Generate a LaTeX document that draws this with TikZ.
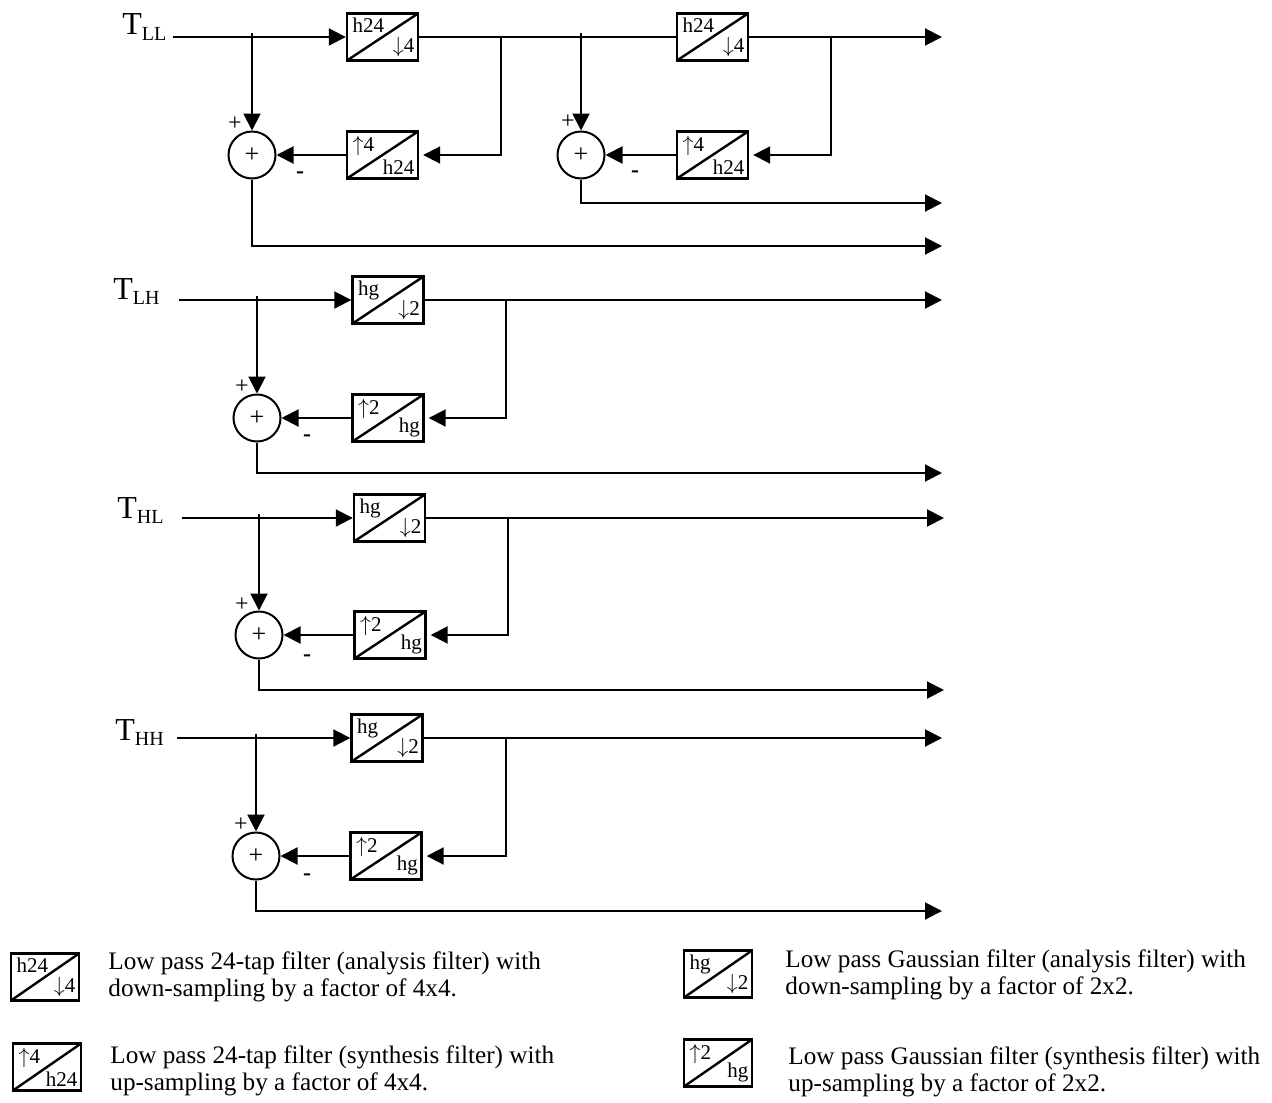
\documentclass[tikz,border=0pt]{standalone}
\usepackage{fontspec}
\setmainfont{Liberation Serif}
\usetikzlibrary{positioning,calc,arrows.meta}

\tikzset{
  filt/.style={draw, line width=1.2pt, minimum width=35.5pt, minimum height=23.5pt, inner sep=0pt,
    path picture={\draw[line width=1.2pt] (path picture bounding box.south west) -- (path picture bounding box.north east);}},
  tl/.style={anchor=north west, inner xsep=3.2pt, inner ysep=2.6pt, font=\fontsize{10.5}{11}\selectfont},
  br/.style={anchor=south east, inner xsep=2.2pt, inner ysep=2.4pt, font=\fontsize{10.5}{11}\selectfont},
  summ/.style={draw, circle, line width=1pt, minimum size=23.5pt, inner sep=0pt, font=\fontsize{13}{13}\selectfont},
  sig/.style={line width=1pt, -{Triangle[length=8.5pt,width=8.5pt]}},
  wire/.style={line width=1pt},
  pm/.style={inner sep=0pt, font=\fontsize{12}{12}\selectfont},
  lbl/.style={anchor=base west, inner sep=0pt, font=\fontsize{16}{16}\selectfont},
  legtxt/.style={anchor=west, inner sep=0pt, align=left, font=\fontsize{12.6}{13.2}\selectfont}
}
\newcommand{\chan}[1]{\raisebox{-0.35ex}{\fontsize{10}{10}\selectfont #1}}

\begin{document}
\begin{tikzpicture}[x=0.5pt, y=-0.5pt]
  \useasboundingbox (0,0) rectangle (1272,1102);

  % ---------------- T_LL : two levels of h24 ----------------
  \node[lbl] (tLL) at (122,35) {T\chan{LL}};
  \coordinate (inLL) at (173,37);
  \coordinate (jLL1) at (252,37);
  \coordinate (fLL1) at (501,37);
  \coordinate (jLL2) at (581,37);
  \coordinate (fLL2) at (831,37);
  \coordinate (oLL1) at (942,37);
  \coordinate (oLL2) at (942,203);
  \coordinate (oLL3) at (942,246);

  \node[filt] (aLL1) at (382.5,37) {};
  \node[tl] (aLL1t) at (aLL1.north west) {h24};
  \node[br] (aLL1b) at (aLL1.south east) {$\downarrow$4};
  \node[filt] (bLL1) at (382.5,155) {};
  \node[tl] (bLL1t) at (bLL1.north west) {$\uparrow$4};
  \node[br] (bLL1b) at (bLL1.south east) {h24};
  \node[summ] (sLL1) at (252,155) {+};
  \node[pm] (sLL1p) at ($(sLL1)+(-17,-31)$) {+};
  \node[pm] (sLL1m) at ($(sLL1)+(48,20)$) {\textbf{-}};

  \node[filt] (aLL2) at (712.5,37) {};
  \node[tl] (aLL2t) at (aLL2.north west) {h24};
  \node[br] (aLL2b) at (aLL2.south east) {$\downarrow$4};
  \node[filt] (bLL2) at (712.5,155) {};
  \node[tl] (bLL2t) at (bLL2.north west) {$\uparrow$4};
  \node[br] (bLL2b) at (bLL2.south east) {h24};
  \node[summ] (sLL2) at (581,155) {+};
  \node[pm] (sLL2p) at ($(sLL2)+(-13,-33)$) {+};
  \node[pm] (sLL2m) at ($(sLL2)+(54,19)$) {\textbf{-}};

  \draw[sig] (inLL) -- (aLL1.west);
  \draw[sig] ([yshift=2pt]jLL1) -- (sLL1.north);
  \draw[wire] (aLL1.east) -- (aLL2.west);
  \draw[sig, shorten >=2pt] (fLL1) |- (bLL1.east);
  \draw[sig] (bLL1.west) -- (sLL1.east);
  \draw[sig] (sLL1.south) |- (oLL3);
  \draw[sig] ([yshift=2pt]jLL2) -- (sLL2.north);
  \draw[sig] (aLL2.east) -- (oLL1);
  \draw[sig, shorten >=2pt] (fLL2) |- (bLL2.east);
  \draw[sig] (bLL2.west) -- (sLL2.east);
  \draw[sig] (sLL2.south) |- (oLL2);

  % ---------------- T_LH : hg ----------------
  \node[lbl] (tLH) at (113,299) {T\chan{LH}};
  \coordinate (inLH) at (179,300);
  \coordinate (jLH) at (257,300);
  \coordinate (fLH) at (506,300);
  \coordinate (oLH1) at (942,300);
  \coordinate (oLH2) at (942,473);

  \node[filt] (aLH) at (388,300) {};
  \node[tl] (aLHt) at (aLH.north west) {hg};
  \node[br] (aLHb) at (aLH.south east) {$\downarrow$2};
  \node[filt] (bLH) at (388,418) {};
  \node[tl] (bLHt) at (bLH.north west) {$\uparrow$2};
  \node[br] (bLHb) at (bLH.south east) {hg};
  \node[summ] (sLH) at (257,418) {+};
  \node[pm] (sLHp) at ($(sLH)+(-15,-31)$) {+};
  \node[pm] (sLHm) at ($(sLH)+(50,20)$) {\textbf{-}};

  \draw[sig] (inLH) -- (aLH.west);
  \draw[sig] ([yshift=2pt]jLH) -- (sLH.north);
  \draw[sig] (aLH.east) -- (oLH1);
  \draw[sig, shorten >=2pt] (fLH) |- (bLH.east);
  \draw[sig] (bLH.west) -- (sLH.east);
  \draw[sig] (sLH.south) |- (oLH2);

  % ---------------- T_HL : hg ----------------
  \node[lbl] (tHL) at (117,518) {T\chan{HL}};
  \coordinate (inHL) at (182,518);
  \coordinate (jHL) at (259,518);
  \coordinate (fHL) at (508,518);
  \coordinate (oHL1) at (944,518);
  \coordinate (oHL2) at (944,690);

  \node[filt] (aHL) at (389.5,518) {};
  \node[tl] (aHLt) at (aHL.north west) {hg};
  \node[br] (aHLb) at (aHL.south east) {$\downarrow$2};
  \node[filt] (bHL) at (390,635) {};
  \node[tl] (bHLt) at (bHL.north west) {$\uparrow$2};
  \node[br] (bHLb) at (bHL.south east) {hg};
  \node[summ] (sHL) at (259,635) {+};
  \node[pm] (sHLp) at ($(sHL)+(-17,-30)$) {+};
  \node[pm] (sHLm) at ($(sHL)+(48,23)$) {\textbf{-}};

  \draw[sig] (inHL) -- (aHL.west);
  \draw[sig] ([yshift=2pt]jHL) -- (sHL.north);
  \draw[sig] (aHL.east) -- (oHL1);
  \draw[sig, shorten >=2pt] (fHL) |- (bHL.east);
  \draw[sig] (bHL.west) -- (sHL.east);
  \draw[sig] (sHL.south) |- (oHL2);

  % ---------------- T_HH : hg ----------------
  \node[lbl] (tHH) at (115,740) {T\chan{HH}};
  \coordinate (inHH) at (177,738);
  \coordinate (jHH) at (256,738);
  \coordinate (fHH) at (506,738);
  \coordinate (oHH1) at (942,738);
  \coordinate (oHH2) at (942,911);

  \node[filt] (aHH) at (387,738) {};
  \node[tl] (aHHt) at (aHH.north west) {hg};
  \node[br] (aHHb) at (aHH.south east) {$\downarrow$2};
  \node[filt] (bHH) at (386,856) {};
  \node[tl] (bHHt) at (bHH.north west) {$\uparrow$2};
  \node[br] (bHHb) at (bHH.south east) {hg};
  \node[summ] (sHH) at (256,856) {+};
  \node[pm] (sHHp) at ($(sHH)+(-15,-31)$) {+};
  \node[pm] (sHHm) at ($(sHH)+(51,21)$) {\textbf{-}};

  \draw[sig] (inHH) -- (aHH.west);
  \draw[sig] ([yshift=2pt]jHH) -- (sHH.north);
  \draw[sig] (aHH.east) -- (oHH1);
  \draw[sig, shorten >=2pt] (fHH) |- (bHH.east);
  \draw[sig] (bHH.west) -- (sHH.east);
  \draw[sig] (sHH.south) |- (oHH2);

  % ---------------- legend ----------------
  \node[filt, minimum width=34pt] (kA) at (45,977) {};
  \node[tl] (kAt) at (kA.north west) {h24};
  \node[br] (kAb) at (kA.south east) {$\downarrow$4};
  \node[legtxt] (kAtxt) at (108,977) {Low pass 24-tap filter (analysis filter) with\\down-sampling by a factor of 4x4.};

  \node[filt, minimum width=34pt] (kB) at (47,1067) {};
  \node[tl] (kBt) at (kB.north west) {$\uparrow$4};
  \node[br] (kBb) at (kB.south east) {h24};
  \node[legtxt] (kBtxt) at (110,1071) {Low pass 24-tap filter (synthesis filter) with\\up-sampling by a factor of 4x4.};

  \node[filt, minimum width=34pt] (kC) at (718,974) {};
  \node[tl] (kCt) at (kC.north west) {hg};
  \node[br] (kCb) at (kC.south east) {$\downarrow$2};
  \node[legtxt] (kCtxt) at (785,975) {Low pass Gaussian filter (analysis filter) with\\down-sampling by a factor of 2x2.};

  \node[filt, minimum width=34pt] (kD) at (718,1063) {};
  \node[tl] (kDt) at (kD.north west) {$\uparrow$2};
  \node[br] (kDb) at (kD.south east) {hg};
  \node[legtxt] (kDtxt) at (788,1072) {Low pass Gaussian filter (synthesis filter) with\\up-sampling by a factor of 2x2.};
\end{tikzpicture}
\end{document}
